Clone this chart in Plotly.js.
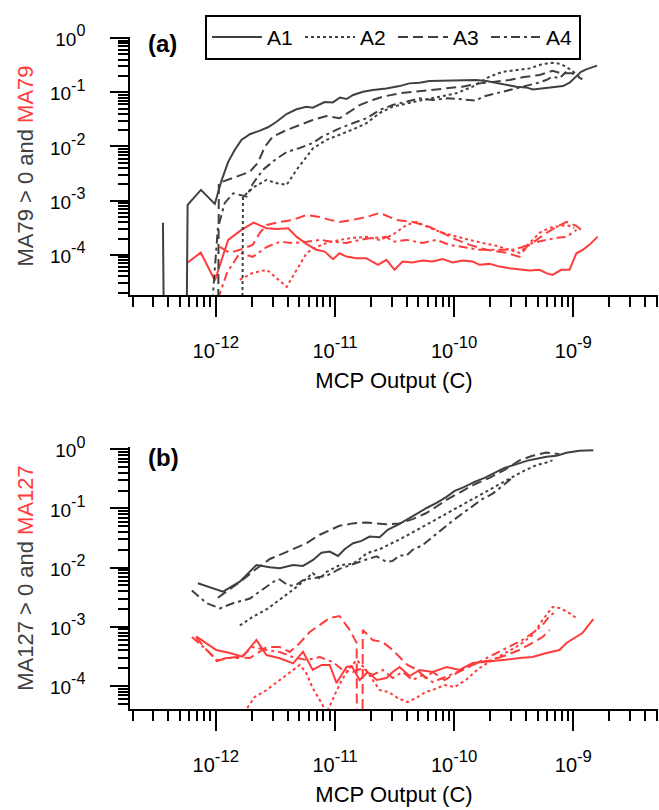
<!DOCTYPE html>
<html>
<head>
<meta charset="utf-8">
<script src="https://cdn.plot.ly/plotly-3.0.1.min.js"></script>
<style>html,body{margin:0;padding:0;background:#fff;}</style>
</head>
<body>
<div id="chart" style="width:659px;height:810px;"></div>
<script>
// ---------- Panel (a): MA79 ----------
// "0" means zero counts (log(0) -> drawn as a drop to the bottom of the log axis)
const aA1x = [3.6e-13, 4.6e-13, 5.8e-13, 7.5e-13, 9.8e-13, 1.12e-12, 1.27e-12, 1.44e-12, 1.64e-12, 1.93e-12, 2.34e-12, 2.74e-12, 3.23e-12, 3.92e-12, 4.75e-12, 5.75e-12, 6.5e-12, 7.2e-12, 8.2e-12, 9.6e-12, 1.1e-11, 1.25e-11, 1.42e-11, 1.72e-11, 2.08e-11, 2.7e-11, 3.48e-11, 4.2e-11, 5.1e-11, 6.2e-11, 7.6e-11, 1.04e-10, 1.53e-10, 1.86e-10, 2.25e-10, 2.74e-10, 3.32e-10, 4.0e-10, 4.6e-10, 5.4e-10, 6.3e-10, 8.2e-10, 9.3e-10, 1.06e-9, 1.16e-9, 1.28e-9, 1.58e-9];
const aA1y = [3.9e-4, 0, 8.4e-4, 1.58e-3, 8.7e-4, 2.4e-3, 5.2e-3, 8.6e-3, 1.32e-2, 1.68e-2, 1.96e-2, 2.26e-2, 2.86e-2, 3.97e-2, 4.85e-2, 5.4e-2, 5.2e-2, 5.8e-2, 6.6e-2, 6.5e-2, 8.0e-2, 7.5e-2, 8.9e-2, 0.102, 0.11, 0.118, 0.13, 0.146, 0.15, 0.161, 0.163, 0.168, 0.168, 0.161, 0.15, 0.136, 0.127, 0.123, 0.113, 0.118, 0.123, 0.13, 0.15, 0.194, 0.239, 0.265, 0.31];

const aA2x = [1.47e-12, 1.69e-12, 2.12e-12, 2.66e-12, 3.18e-12, 3.92e-12, 4.75e-12, 5.75e-12, 6.55e-12, 8.47e-12, 1.09e-11, 1.42e-11, 1.83e-11, 2.37e-11, 3.05e-11, 3.97e-11, 5.43e-11, 7.55e-11, 1.04e-10, 1.43e-10, 1.98e-10, 2.55e-10, 3.32e-10, 4.29e-10, 5.51e-10, 6.68e-10, 7.91e-10, 9.6e-10, 1.12e-9];
const aA2y = [0, 1.19e-3, 1.82e-3, 2.41e-3, 2.12e-3, 1.95e-3, 3.69e-3, 6.49e-3, 9.27e-3, 1.32e-2, 1.63e-2, 2.07e-2, 2.68e-2, 4.15e-2, 5.42e-2, 6.25e-2, 7.2e-2, 8.28e-2, 9.57e-2, 0.127, 0.194, 0.239, 0.257, 0.276, 0.332, 0.35, 0.332, 0.257, 0.194];

const aA3x = [9.25e-13, 1.06e-12, 1.49e-12, 1.93e-12, 2.25e-12, 2.58e-12, 3.01e-12, 3.92e-12, 5.06e-12, 6.5e-12, 8.47e-12, 1.09e-11, 1.33e-11, 1.61e-11, 2.07e-11, 2.51e-11, 3.48e-11, 4.48e-11, 6.22e-11, 8.59e-11, 1.17e-10, 1.63e-10, 2.25e-10, 2.91e-10, 3.74e-10, 5.2e-10, 6.68e-10, 7.91e-10, 9.82e-10, 1.19e-9];
const aA3y = [0, 2.12e-3, 2.77e-3, 3.43e-3, 4.97e-3, 9.91e-3, 1.52e-2, 2.01e-2, 2.49e-2, 3.08e-2, 3.65e-2, 3.31e-2, 4.38e-2, 5.82e-2, 7.2e-2, 8.28e-2, 9.57e-2, 0.102, 0.11, 0.12, 0.127, 0.146, 0.156, 0.168, 0.189, 0.208, 0.249, 0.224, 0.224, 0.173];

const aA4x = [8.57e-13, 1.04e-12, 1.19e-12, 1.4e-12, 1.81e-12, 2.04e-12, 2.48e-12, 3.13e-12, 3.94e-12, 5.06e-12, 6.5e-12, 7.74e-12, 9.03e-12, 1.09e-11, 1.41e-11, 1.83e-11, 2.37e-11, 3.05e-11, 3.97e-11, 5.13e-11, 6.59e-11, 8.59e-11, 1.17e-10, 1.53e-10, 1.73e-10, 2.25e-10, 2.91e-10, 3.74e-10, 4.87e-10, 5.92e-10, 6.68e-10, 7.64e-10, 8.7e-10];
const aA4y = [1e-6, 3.1e-4, 9.1e-4, 1.37e-3, 1.19e-3, 2.04e-3, 3.69e-3, 5.64e-3, 7.93e-3, 9.38e-3, 1.16e-2, 1.5e-2, 1.77e-2, 2.16e-2, 2.68e-2, 3.31e-2, 4.71e-2, 5.82e-2, 6.7e-2, 7.73e-2, 7.2e-2, 7.73e-2, 7.41e-2, 6.98e-2, 8.28e-2, 9.57e-2, 0.11, 0.127, 0.146, 0.168, 0.194, 0.181, 0.239];

// red: MA79
const aR1x = [5.8e-13, 7.48e-13, 9.82e-13, 1.27e-12, 1.64e-12, 2.08e-12, 2.66e-12, 3.23e-12, 4.04e-12, 4.75e-12, 5.75e-12, 6.98e-12, 8.2e-12, 9.62e-12, 1.09e-11, 1.25e-11, 1.51e-11, 1.83e-11, 2.29e-11, 2.7e-11, 3.16e-11, 3.69e-11, 4.48e-11, 5.43e-11, 6.59e-11, 8.0e-11, 9.7e-11, 1.17e-10, 1.43e-10, 1.63e-10, 1.98e-10, 2.4e-10, 2.91e-10, 3.53e-10, 4.29e-10, 5.2e-10, 5.92e-10, 6.68e-10, 7.91e-10, 9.27e-10, 1.06e-9, 1.2e-9, 1.36e-9, 1.6e-9];
const aR1y = [7.21e-5, 1.1e-4, 3.36e-5, 1.89e-4, 2.89e-4, 3.94e-4, 3.1e-4, 3.01e-4, 3.1e-4, 2.17e-4, 1.6e-4, 1.24e-4, 1.15e-4, 8.34e-5, 1.07e-4, 9.3e-5, 8.7e-5, 8.7e-5, 6.55e-5, 8.09e-5, 5.3e-5, 7.52e-5, 7.21e-5, 7.85e-5, 7.52e-5, 8.34e-5, 7.21e-5, 7.85e-5, 7.52e-5, 6.55e-5, 6.82e-5, 6.08e-5, 5.69e-5, 5.45e-5, 5.14e-5, 5.3e-5, 4.6e-5, 4.28e-5, 5.3e-5, 5.3e-5, 1.07e-4, 1.24e-4, 1.53e-4, 2.17e-4];

const aR2x = [1.59e-12, 2.04e-12, 2.68e-12, 3.24e-12, 3.94e-12, 4.77e-12, 5.79e-12, 7.03e-12, 8.52e-12, 1.09e-11, 1.41e-11, 1.85e-11, 2.37e-11, 3.05e-11, 3.99e-11, 4.84e-11, 6.22e-11, 8.0e-11, 1.05e-10, 1.35e-10, 1.73e-10, 2.26e-10, 2.91e-10, 3.53e-10, 4.29e-10, 5.2e-10, 6.31e-10, 7.64e-10, 8.75e-10, 1.02e-9];
const aR2y = [3.46e-5, 4.66e-5, 5.3e-5, 3.77e-5, 2.57e-5, 5.3e-5, 1.09e-4, 1.4e-4, 1.66e-4, 1.89e-4, 2.06e-4, 2.15e-4, 1.89e-4, 2.34e-4, 3.57e-4, 4.06e-4, 3.15e-4, 2.55e-4, 2.15e-4, 1.89e-4, 1.66e-4, 1.47e-4, 1.24e-4, 1.09e-4, 1.66e-4, 2.55e-4, 3.15e-4, 3.43e-4, 3.57e-4, 3.15e-4];

const aR3x = [1.08e-12, 1.31e-12, 1.59e-12, 2.04e-12, 2.34e-12, 2.68e-12, 3.44e-12, 4.42e-12, 5.79e-12, 7.45e-12, 9.03e-12, 1.09e-11, 1.41e-11, 1.85e-11, 2.37e-11, 3.29e-11, 4.48e-11, 6.22e-11, 8.63e-11, 1.05e-10, 1.35e-10, 1.87e-10, 2.75e-10, 3.53e-10, 4.05e-10, 4.9e-10, 5.95e-10, 7.21e-10, 8.75e-10, 1.06e-9, 1.24e-9];
const aR3y = [1.4e-4, 1.09e-4, 1.24e-4, 1.53e-4, 2.55e-4, 3.57e-4, 4.06e-4, 4.42e-4, 5.46e-4, 5.01e-4, 4.42e-4, 4.06e-4, 4.42e-4, 5.01e-4, 5.94e-4, 4.42e-4, 4.06e-4, 3.28e-4, 2.34e-4, 1.89e-4, 1.53e-4, 1.24e-4, 1.09e-4, 9.19e-5, 1.4e-4, 1.89e-4, 2.55e-4, 3.28e-4, 4.06e-4, 3.43e-4, 2.55e-4];

const aR4x = [1.04e-12, 1.24e-12, 1.59e-12, 2.04e-12, 2.68e-12, 3.44e-12, 4.42e-12, 5.79e-12, 7.45e-12, 9.57e-12, 1.25e-11, 1.61e-11, 2.07e-11, 2.71e-11, 3.05e-11, 3.99e-11, 5.43e-11, 7.12e-11, 9.14e-11, 1.17e-10, 1.63e-10, 2.26e-10, 3.08e-10, 3.74e-10, 4.54e-10, 5.95e-10, 7.21e-10, 8.75e-10, 1.06e-9];
const aR4y = [1.5e-5, 4.66e-5, 1.09e-4, 9.19e-5, 1.4e-4, 1.74e-4, 1.66e-4, 1.74e-4, 1.89e-4, 1.74e-4, 1.66e-4, 1.89e-4, 2.06e-4, 2.15e-4, 1.74e-4, 1.89e-4, 1.66e-4, 1.89e-4, 1.53e-4, 1.4e-4, 1.24e-4, 1.24e-4, 1.24e-4, 1.4e-4, 1.66e-4, 1.89e-4, 2.06e-4, 2.15e-4, 2.89e-4];

// ---------- Panel (b): MA127 ----------
const bA1x = [7.07e-13, 1.15e-12, 1.59e-12, 2.19e-12, 2.84e-12, 3.44e-12, 4.45e-12, 5.39e-12, 6.55e-12, 7.69e-12, 9.03e-12, 1.06e-11, 1.21e-11, 1.42e-11, 1.67e-11, 1.95e-11, 2.37e-11, 2.77e-11, 3.48e-11, 4.06e-11, 4.84e-11, 5.87e-11, 7.12e-11, 8.63e-11, 1.01e-10, 1.22e-10, 1.48e-10, 1.8e-10, 2.18e-10, 2.64e-10, 3.21e-10, 4.05e-10, 4.91e-10, 5.95e-10, 7.21e-10, 8.75e-10, 1.12e-9, 1.47e-9];
const bA1y = [5.45e-3, 3.93e-3, 5.8e-3, 1.11e-2, 1.02e-2, 9.77e-3, 1.11e-2, 1.07e-2, 1.35e-2, 1.79e-2, 1.87e-2, 1.58e-2, 2.07e-2, 2.59e-2, 2.83e-2, 3.35e-2, 3.27e-2, 4.35e-2, 5.49e-2, 6.67e-2, 8.1e-2, 0.102, 0.124, 0.157, 0.199, 0.232, 0.282, 0.33, 0.4, 0.486, 0.547, 0.639, 0.691, 0.747, 0.776, 0.873, 0.944, 0.969];

const bA2x = [1.59e-12, 2.04e-12, 2.68e-12, 3.24e-12, 4.42e-12, 5.39e-12, 6.5e-12, 7.45e-12, 8.52e-12, 1.09e-11, 1.41e-11, 1.61e-11, 1.85e-11, 2.37e-11, 3.48e-11, 4.84e-11, 6.59e-11, 9.14e-11, 1.35e-10, 1.87e-10, 2.75e-10, 3.74e-10, 4.9e-10, 5.95e-10, 6.68e-10];
const bA2y = [1.05e-3, 1.47e-3, 1.98e-3, 2.6e-3, 4.2e-3, 5.8e-3, 8.1e-3, 6.5e-3, 8.5e-3, 1.1e-2, 1.16e-2, 1.4e-2, 1.75e-2, 2.05e-2, 3.0e-2, 4.3e-2, 6.1e-2, 8.9e-2, 0.138, 0.2, 0.3, 0.42, 0.54, 0.6, 0.65];

const bA3x = [1.04e-12, 1.59e-12, 2.12e-12, 2.84e-12, 3.94e-12, 5.79e-12, 7.45e-12, 1.09e-11, 1.41e-11, 1.85e-11, 2.7e-11, 3.48e-11, 4.48e-11, 5.79e-11, 7.12e-11, 8.63e-11, 1.13e-10, 1.5e-10, 1.98e-10, 2.65e-10, 3.53e-10, 4.54e-10, 5.95e-10, 7.64e-10];
const bA3y = [3.1e-3, 5.7e-3, 9.1e-3, 1.4e-2, 1.85e-2, 2.6e-2, 3.6e-2, 5.1e-2, 5.6e-2, 5.8e-2, 5.4e-2, 5.6e-2, 6.6e-2, 8.3e-2, 0.108, 0.14, 0.19, 0.26, 0.33, 0.45, 0.65, 0.78, 0.88, 0.83];

const bA4x = [6.3e-13, 8.4e-13, 1.08e-12, 1.39e-12, 1.93e-12, 2.48e-12, 3.24e-12, 3.44e-12, 4.04e-12, 4.65e-12, 5.49e-12, 6.5e-12, 8.52e-12, 1.09e-11, 1.41e-11, 1.78e-11, 2.24e-11, 2.71e-11, 3.05e-11, 3.48e-11, 3.99e-11, 4.48e-11, 5.43e-11, 6.59e-11, 8.0e-11, 9.7e-11, 1.17e-10, 1.43e-10, 1.73e-10, 2.12e-10, 2.55e-10, 3.08e-10];
const bA4y = [4.1e-3, 2.5e-3, 2.05e-3, 2.5e-3, 3.0e-3, 4.3e-3, 6.3e-3, 6.3e-3, 5.0e-3, 5.0e-3, 6.3e-3, 6.6e-3, 7.3e-3, 9.5e-3, 1.15e-2, 1.35e-2, 1.55e-2, 1.25e-2, 1.3e-2, 1.6e-2, 1.6e-2, 2.0e-2, 2.4e-2, 3.3e-2, 4.6e-2, 6.2e-2, 8.2e-2, 0.11, 0.145, 0.18, 0.24, 0.33];

// red: MA127
const bR1x = [6.89e-13, 1.01e-12, 1.31e-12, 1.68e-12, 2.19e-12, 2.66e-12, 3.44e-12, 4.45e-12, 5.39e-12, 6.5e-12, 7.74e-12, 9.03e-12, 1.03e-11, 1.25e-11, 1.38e-11, 1.61e-11, 1.88e-11, 2.24e-11, 2.7e-11, 3.05e-11, 3.48e-11, 4.23e-11, 5.13e-11, 6.59e-11, 8.63e-11, 1.11e-10, 1.43e-10, 1.87e-10, 2.55e-10, 3.53e-10, 4.54e-10, 5.95e-10, 7.64e-10, 8.75e-10, 1.06e-9, 1.19e-9, 1.47e-9];
const bR1y = [6.8e-4, 4.05e-4, 3.6e-4, 3.12e-4, 5.98e-4, 3.33e-4, 2.93e-4, 2.41e-4, 3.79e-4, 1.86e-4, 2.26e-4, 2.26e-4, 1.12e-4, 2.09e-4, 2.17e-4, 1.26e-4, 1.72e-4, 1.26e-4, 1.36e-4, 1.72e-4, 2.09e-4, 1.47e-4, 1.86e-4, 1.72e-4, 2.09e-4, 1.86e-4, 2.44e-4, 2.54e-4, 2.74e-4, 2.96e-4, 3.08e-4, 3.6e-4, 4.05e-4, 5.32e-4, 6.72e-4, 7.85e-4, 1.35e-3];

const bR2x = [1.72e-12, 2.12e-12, 2.66e-12, 3.44e-12, 4.17e-12, 5.06e-12, 5.68e-12, 6.5e-12, 7.45e-12, 8.52e-12, 9.93e-12, 1.14e-11, 1.33e-11, 1.52e-11, 1.77e-11, 2.07e-11, 2.37e-11, 2.82e-11, 3.36e-11, 4.06e-11, 4.93e-11, 5.75e-11, 6.59e-11, 8.32e-11, 1.01e-10, 1.25e-10, 1.63e-10, 2.1e-10, 2.75e-10, 3.53e-10, 4.54e-10, 5.51e-10, 6.68e-10, 7.64e-10, 8.93e-10, 1.06e-9];
const bR2y = [3.5e-5, 6.49e-5, 8.52e-5, 1.26e-4, 1.72e-4, 2.26e-4, 1.72e-4, 9.2e-5, 5.77e-5, 3.5e-5, 7.02e-5, 1.26e-4, 2.01e-4, 2.74e-4, 2.01e-4, 1.26e-4, 8.52e-5, 7.88e-5, 6.24e-5, 5.34e-5, 6.49e-5, 7.88e-5, 8.52e-5, 1.04e-4, 9.58e-5, 1.26e-4, 2.01e-4, 2.74e-4, 3.75e-4, 4.92e-4, 7.26e-4, 1.3e-3, 2.16e-3, 2.08e-3, 1.78e-3, 1.41e-3];

const bR3x = [6.8e-13, 8.09e-13, 1.02e-12, 1.24e-12, 1.5e-12, 1.93e-12, 2.68e-12, 3.44e-12, 4.17e-12, 5.06e-12, 6.14e-12, 7.45e-12, 9.03e-12, 1.09e-11, 1.33e-11, 1.52e-11, 1.61e-11, 1.71e-11, 2.07e-11, 2.51e-11, 3.05e-11, 3.48e-11, 4.06e-11, 4.93e-11, 5.75e-11, 6.59e-11, 8.32e-11, 1.01e-10, 1.25e-10, 1.63e-10, 2.1e-10, 2.75e-10, 3.53e-10, 4.54e-10, 5.51e-10, 6.31e-10];
const bR3y = [6.72e-4, 4.38e-4, 2.64e-4, 2.96e-4, 3.08e-4, 2.96e-4, 4.55e-4, 4.55e-4, 3.75e-4, 5.32e-4, 8.17e-4, 1.07e-3, 1.41e-3, 1.52e-3, 8.83e-4, 5.32e-4, 0, 8.83e-4, 5.98e-4, 5.53e-4, 4.05e-4, 3.08e-4, 2.26e-4, 1.86e-4, 1.36e-4, 1.72e-4, 1.26e-4, 1.59e-4, 2.01e-4, 2.54e-4, 2.74e-4, 3.33e-4, 4.05e-4, 5.32e-4, 6.72e-4, 8.83e-4];

const bR4x = [6.3e-13, 8.41e-13, 1.02e-12, 1.24e-12, 1.59e-12, 2.04e-12, 2.68e-12, 3.44e-12, 4.42e-12, 5.79e-12, 7.45e-12, 9.57e-12, 1.16e-11, 1.41e-11, 1.71e-11, 2.07e-11, 2.51e-11, 3.05e-11, 3.69e-11, 4.48e-11, 5.43e-11, 6.59e-11, 8.0e-11, 9.7e-11, 1.17e-10, 1.43e-10, 1.73e-10, 2.1e-10, 2.55e-10, 3.08e-10, 3.74e-10, 4.54e-10, 5.51e-10, 6.31e-10, 7.08e-10];
const bR4y = [6.72e-4, 4.05e-4, 2.74e-4, 2.96e-4, 2.96e-4, 4.55e-4, 4.05e-4, 3.75e-4, 3.08e-4, 2.74e-4, 3.08e-4, 2.54e-4, 1.86e-4, 1.72e-4, 2.01e-4, 1.53e-4, 1.86e-4, 1.36e-4, 1.72e-4, 1.26e-4, 1.53e-4, 1.16e-4, 1.36e-4, 1.59e-4, 1.86e-4, 2.26e-4, 2.74e-4, 3.33e-4, 4.05e-4, 4.92e-4, 5.98e-4, 7.85e-4, 1.07e-3, 1.52e-3, 1.78e-3];

const seriesNames = ['A1', 'A2', 'A3', 'A4'];
const xDecades = [-12, -11, -10, -9];
const yDecadesA = [-4, -3, -2, -1, 0];
const yDecadesB = [-4, -3, -2, -1, 0];

// ---------- styling ----------
const GRAY = '#404040';
const RED = '#ff3c3c';
const DASHES = ['solid', '3px,3px', '10px,5px', '9px,4px,3px,4px'];
const LW = 2;

// Igor draws log(0) as a drop to -infinity: stand-in tiny value
const z = arr => arr.map(v => (v === 0 ? 1e-30 : v));

function line(x, y, i, color, xa, ya, legend) {
  return {
    type: 'scatter', mode: 'lines', x: x, y: z(y),
    name: seriesNames[i], showlegend: legend, legendgroup: seriesNames[i],
    xaxis: xa, yaxis: ya,
    line: {color: color, width: LW, dash: DASHES[i]},
    hoverinfo: 'skip'
  };
}

const gA = [[aA1x, aA1y], [aA2x, aA2y], [aA3x, aA3y], [aA4x, aA4y]];
const rA = [[aR1x, aR1y], [aR2x, aR2y], [aR3x, aR3y], [aR4x, aR4y]];
const gB = [[bA1x, bA1y], [bA2x, bA2y], [bA3x, bA3y], [bA4x, bA4y]];
const rB = [[bR1x, bR1y], [bR2x, bR2y], [bR3x, bR3y], [bR4x, bR4y]];

const data = [];
rA.forEach((s, i) => data.push(line(s[0], s[1], i, RED, 'x2', 'y2', false)));
gA.forEach((s, i) => data.push(line(s[0], s[1], i, GRAY, 'x2', 'y2', true)));
rB.forEach((s, i) => data.push(line(s[0], s[1], i, RED, 'x', 'y', false)));
gB.forEach((s, i) => data.push(line(s[0], s[1], i, GRAY, 'x', 'y', false)));

const FONT = 'Liberation Sans, Arial, sans-serif';

// tick helpers (decade labels like Igor: "10" with a large superscript exponent)
const decVals = ds => ds.map(d => Math.pow(10, d));
const decText = (ds, base) => ds.map(d => '<span style="font-size:' + base + 'px">10</span><sup>' + d + '</sup>');
function minorVals(d0, d1) {
  const out = [];
  for (let d = d0; d <= d1; d++) for (let m = 2; m <= 9; m++) out.push(m * Math.pow(10, d));
  return out;
}

function xAxis(anchor) {
  return {
    type: 'log', anchor: anchor, range: [-12.72, -8.29],
    tickmode: 'array', tickvals: decVals(xDecades), ticktext: decText(xDecades, 20),
    showline: true, linecolor: '#000', linewidth: 2,
    showgrid: false, zeroline: false,
    ticks: 'outside', ticklen: 20, tickwidth: 2, tickcolor: '#000',
    minor: {tickmode: 'array', tickvals: minorVals(-13, -9), ticks: 'outside', ticklen: 10, tickwidth: 2, tickcolor: '#000', showgrid: false},
    tickfont: {family: FONT, size: 24, color: '#000'},
    ticklabelstandoff: 12,
    title: {text: 'MCP Output (C)', font: {family: FONT, size: 22, color: '#000'}, standoff: 12},
    automargin: false
  };
}
function yAxis(domain, range, decs, ttl) {
  return {
    type: 'log', domain: domain, range: range,
    tickmode: 'array', tickvals: decVals(decs), ticktext: decText(decs, 19),
    showline: true, linecolor: '#000', linewidth: 2,
    showgrid: false, zeroline: false,
    ticks: 'outside', ticklen: 18, tickwidth: 2, tickcolor: '#000',
    minor: {tickmode: 'array', tickvals: minorVals(-5, -1), ticks: 'outside', ticklen: 10, tickwidth: 2, tickcolor: '#000', showgrid: false},
    tickfont: {family: FONT, size: 23, color: '#000'},
    ticklabelstandoff: 20,
    title: {text: ttl, font: {family: FONT, size: 22, color: GRAY}, standoff: 10},
    automargin: false
  };
}

const layout = {
  width: 659, height: 810,
  margin: {l: 130, r: 1, t: 37, b: 101},
  paper_bgcolor: '#fff', plot_bgcolor: '#fff',
  font: {family: FONT, color: '#000'},
  showlegend: true,
  legend: {
    orientation: 'h', x: 0.142, y: 1.033, xanchor: 'left', yanchor: 'top',
    bgcolor: '#fff', bordercolor: '#000', borderwidth: 2,
    font: {family: FONT, size: 21, color: '#000'},
    entrywidth: 28, entrywidthmode: 'pixels', itemwidth: 50, traceorder: 'normal'
  },
  xaxis: xAxis('y'),
  yaxis: yAxis([0, 0.3899], [-4.39, 0.04], yDecadesB, 'MA127 &gt; 0 and <span style="color:' + RED + '">MA127</span>'),
  xaxis2: xAxis('y2'),
  yaxis2: yAxis([0.6161, 1], [-4.74, 0.02], yDecadesA, 'MA79 &gt; 0 and <span style="color:' + RED + '">MA79</span>'),
  annotations: [
    {text: '<b>(a)</b>', xref: 'paper', yref: 'paper', x: 0.03, y: 0.9896, xanchor: 'left', yanchor: 'middle', showarrow: false, font: {family: FONT, size: 24, color: '#000'}},
    {text: '<b>(b)</b>', xref: 'paper', yref: 'paper', x: 0.03, y: 0.375, xanchor: 'left', yanchor: 'middle', showarrow: false, font: {family: FONT, size: 24, color: '#000'}}
  ]
};

Plotly.newPlot('chart', data, layout, {displayModeBar: false, staticPlot: true});
</script>
</body>
</html>
